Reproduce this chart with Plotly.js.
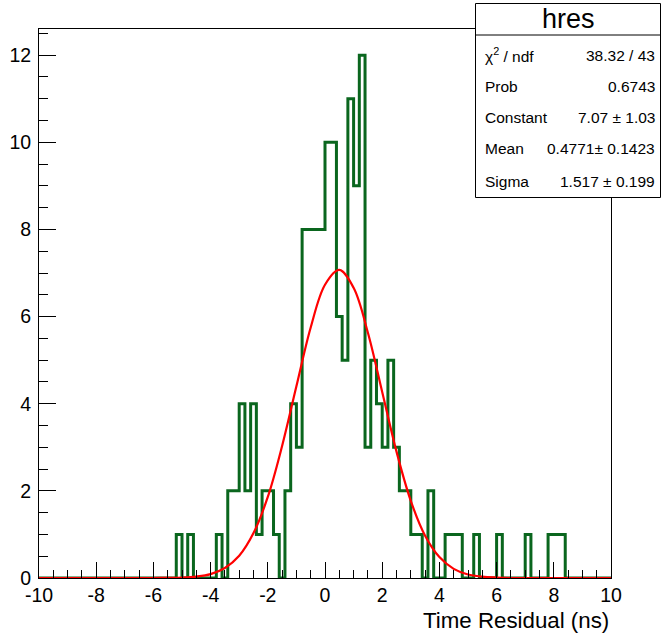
<!DOCTYPE html>
<html>
<head>
<meta charset="utf-8">
<script src="https://cdn.plot.ly/plotly-3.0.1.min.js"></script>
<style>html,body{margin:0;padding:0;background:#fff;}#chart{width:662px;height:634px;}</style>
</head>
<body>
<div id="chart"></div>
<script>
// ---- data ----
const histMin = -10;
const binWidth = 0.2;
// 100 bins from -10 to 10, bin contents
const counts = [
  0,0,0,0,0,0,0,0,0,0,          // -10.0 .. -8.2
  0,0,0,0,0,0,0,0,0,0,          // -8.0 .. -6.2
  0,0,0,0,1,0,1,0,0,0,          // -6.0 .. -4.2
  0,1,0,2,2,4,2,4,1,2,          // -4.0 .. -2.2
  2,1,0,2,4,3,8,8,8,8,          // -2.0 .. -0.2
  10,10,6,5,11,9,12,3,5,4,      //  0.0 ..  1.8
  3,5,3,2,2,1,1,0,2,0,          //  2.0 ..  3.8
  0,1,1,1,0,0,1,0,0,0,          //  4.0 ..  5.8
  1,0,0,0,0,1,0,0,0,1,          //  6.0 ..  7.8
  1,1,0,0,0,0,0,0,0,0           //  8.0 ..  9.8
];
// fitted gaussian curve
const fitX = [-10,-9.5,-9,-8.5,-8,-7.5,-7,-6.5,-6,-5.5,-5,-4.5,-4,-3.5,-3,-2.5,-2,-1.5,-1,-0.5,0,0.5,1,1.5,2,2.5,3,3.5,4,4.5,5,5.5,6,6.5,7,7.5,8,8.5,9,9.5,10];
const fitY = [0,0,0,0,0,0,0,0,0,0.003,0.01,0.033,0.09,0.23,0.51,1.03,1.86,3.03,4.40,5.75,6.73,7.07,6.66,5.63,4.27,2.90,1.77,0.97,0.48,0.21,0.08,0.03,0.01,0,0,0,0,0,0,0,0];
const xTickVals = [-10,-8,-6,-4,-2,0,2,4,6,8,10];
const xTickText = ['-10','-8','-6','-4','-2','0','2','4','6','8','10'];
const yTickVals = [0,2,4,6,8,10,12];
const yTickText = ['0','2','4','6','8','10','12'];
const xTitle = 'Time Residual (ns)';
const statsTitle = 'hres';
const statsLabels = ['χ<sup>2</sup> / ndf','Prob','Constant','Mean','Sigma'];
const statsValues = ['38.32 / 43','0.6743','7.07 ± 1.03','0.4771± 0.1423','1.517 ± 0.199'];

// ---- build traces ----
const histX = [], histY = [];
for (let i = 0; i < counts.length; i++) {
  histX.push(histMin + binWidth * i);
  histY.push(counts[i]);
}
histX.push(histMin + binWidth * counts.length);
histY.push(counts[counts.length - 1]);

const FONT = 'Liberation Sans, Arial, Helvetica, sans-serif';
const W = 662, H = 634;
const M = {l: 39, r: 51, t: 29, b: 56};
const pw = W - M.l - M.r, ph = H - M.t - M.b;
const px = x => (x - M.l) / pw;
const py = y => (H - M.b - y) / ph;

const traces = [
  {x: histX, y: histY, type: 'scatter', mode: 'lines',
   line: {shape: 'hv', color: '#0a661e', width: 3}, cliponaxis: false, hoverinfo: 'skip'},
  {x: fitX, y: fitY, type: 'scatter', mode: 'lines',
   line: {shape: 'spline', smoothing: 1, color: '#ff0000', width: 2.2}, cliponaxis: false, hoverinfo: 'skip'}
];

const annotations = [
  {text: xTitle, xref: 'paper', yref: 'paper', x: 1, y: py(620), xanchor: 'right', yanchor: 'middle',
   showarrow: false, font: {family: FONT, size: 22.3, color: '#000'}},
  {text: statsTitle, xref: 'paper', yref: 'paper', x: px(568), y: py(19), xanchor: 'center', yanchor: 'middle',
   showarrow: false, font: {family: FONT, size: 27, color: '#000'}}
];
const rowY = [55, 86, 117, 148, 181];
for (let i = 0; i < statsLabels.length; i++) {
  annotations.push({text: statsLabels[i], xref: 'paper', yref: 'paper', x: px(483), y: py(rowY[i]),
    xanchor: 'left', yanchor: 'middle', showarrow: false, font: {family: FONT, size: 15.5, color: '#000'}});
  annotations.push({text: statsValues[i], xref: 'paper', yref: 'paper', x: px(657), y: py(rowY[i]),
    xanchor: 'right', yanchor: 'middle', showarrow: false, font: {family: FONT, size: 15.5, color: '#000'}});
}

const shapes = [
  {type: 'rect', xref: 'paper', yref: 'paper', x0: px(475.5), x1: px(660.5), y0: py(197.5), y1: py(3.5),
   line: {color: '#000', width: 1}, fillcolor: '#fff', layer: 'above'},
  {type: 'line', xref: 'paper', yref: 'paper', x0: px(475.5), x1: px(660.5), y0: py(35), y1: py(35),
   line: {color: '#000', width: 1}, layer: 'above'}
];

const axisCommon = {
  showgrid: false, zeroline: false, showline: true, linecolor: '#000', linewidth: 1, mirror: true,
  ticks: 'inside', tickcolor: '#000', tickwidth: 1, tickmode: 'array',
  tickfont: {family: FONT, size: 19.5, color: '#000'}
};

const layout = {
  width: W, height: H, margin: M, showlegend: false,
  paper_bgcolor: '#fff', plot_bgcolor: '#fff',
  xaxis: Object.assign({}, axisCommon, {range: [-10, 10], tickvals: xTickVals, ticktext: xTickText, ticklen: 16,
    minor: {tickmode: 'linear', tick0: -10, dtick: 0.5, ticks: 'inside', ticklen: 8, tickcolor: '#000', tickwidth: 1, showgrid: false}}),
  yaxis: Object.assign({}, axisCommon, {range: [0, 12.6], tickvals: yTickVals, ticktext: yTickText, ticklen: 17,
    ticklabelstandoff: 3,
    minor: {tickmode: 'linear', tick0: 0, dtick: 0.5, ticks: 'inside', ticklen: 9, tickcolor: '#000', tickwidth: 1, showgrid: false}}),
  annotations: annotations, shapes: shapes
};

Plotly.newPlot('chart', traces, layout, {staticPlot: true, displayModeBar: false});
</script>
</body>
</html>
